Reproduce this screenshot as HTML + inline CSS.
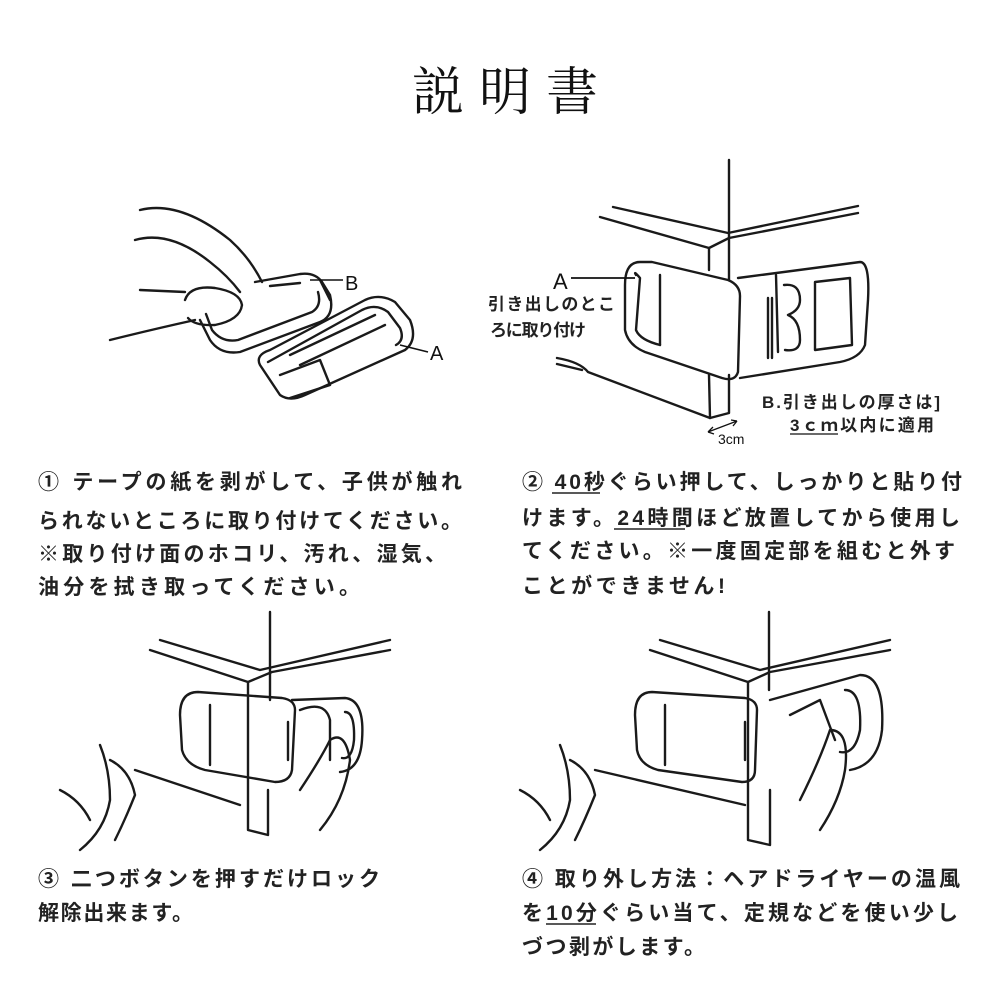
<!DOCTYPE html>
<html><head><meta charset="utf-8"><style>
html,body{margin:0;padding:0;background:#fff}
svg{display:block}
.t{font-family:"Liberation Sans","Noto Sans CJK JP",sans-serif;font-weight:bold;font-size:21px;fill:#222}
.s{font-family:"Liberation Sans","Noto Sans CJK JP",sans-serif;font-weight:bold;font-size:17px;fill:#222}
.l{fill:none;stroke:#1a1a1a;stroke-width:2.4;stroke-linecap:round;stroke-linejoin:round}
</style></head><body>
<svg width="1008" height="1008" viewBox="0 0 1008 1008" xmlns="http://www.w3.org/2000/svg">
<rect width="1008" height="1008" fill="#fff"/>
<text x="505" y="110" text-anchor="middle" font-family="'Liberation Serif','Noto Serif CJK SC',serif" font-size="52" fill="#111" textLength="186" lengthAdjust="spacing">説明書</text>

<!-- Panel 1 -->
<g class="l">
<path d="M140 210 Q180 200 230 240 Q250 258 262 282"/>
<path d="M135 240 Q170 230 210 262 Q228 276 240 292"/>
<path d="M140 290 L185 292"/>
<path d="M110 340 Q150 330 195 320"/>
<path d="M185 300 Q190 285 215 288 Q240 292 242 305 Q240 320 215 325 Q195 326 188 318"/>
<path d="M200 320 L210 340 Q220 355 240 352 L320 322 Q335 316 330 295 L322 282 Q315 272 300 274 L255 282"/>
<path d="M206 314 L212 330 Q222 343 238 340 L312 312 Q322 306 318 292"/>
<path d="M260 365 Q255 355 270 350 L365 300 Q380 293 395 302 L410 320 Q418 340 405 350 L305 395 Q290 402 280 395 Z"/>
<path d="M268 362 L362 310 Q376 303 388 312 L400 328 Q405 340 396 345"/>
<path d="M280 375 L320 360 L330 385 L290 398"/>
<path d="M290 355 L375 315"/>
<path d="M300 365 L385 325"/>
<path d="M320 280 L330 300"/>
<path d="M270 286 L300 283"/>
</g>
<text x="345" y="290" font-family="'Liberation Sans',sans-serif" font-size="20" fill="#111">B</text>
<line x1="310" y1="280" x2="343" y2="280" stroke="#111" stroke-width="1.5"/>
<text x="430" y="360" font-family="'Liberation Sans',sans-serif" font-size="20" fill="#111">A</text>
<line x1="400" y1="345" x2="428" y2="352" stroke="#111" stroke-width="1.5"/>

<!-- Panel 2 -->
<g class="l">
<path d="M729 160 L729 280"/>
<path d="M600 217 L709 248 L729 238 L858 213"/>
<path d="M613 207 L728 233 L858 206"/>
<path d="M709 248 L709 270"/>
<path d="M729 375 L729 413 L710 418 L709 375"/>
<path d="M557 358 Q580 362 588 372 L710 418"/>
<path d="M557 364 L582 370"/>
<path d="M640 262 Q625 262 625 285 L625 330 Q628 345 645 352 L722 378 Q735 382 738 372 L740 296 Q740 285 728 280 L652 262 Z"/>
<path d="M636 275 Q633 270 640 278 L636 330 Q640 340 660 345"/>
<path d="M660 275 L660 345"/>
<path d="M738 278 L860 262 Q870 262 868 300 L865 345 Q860 358 840 362 L740 378"/>
<path d="M776 275 L778 352"/>
<path d="M768 298 L768 358 M772 298 L772 358"/>
<path d="M784 285 Q800 283 800 300 Q800 310 788 315 Q800 320 800 340 Q800 352 785 350"/>
<path d="M815 282 L850 278 L852 345 L815 350 Z"/>
</g>
<text x="553" y="289" font-family="'Liberation Sans',sans-serif" font-size="22" fill="#111">A</text>
<line x1="571" y1="278" x2="635" y2="278" stroke="#111" stroke-width="1.8"/>
<text x="488" y="310" class="s" textLength="127" lengthAdjust="spacing">引き出しのとこ</text>
<text x="490" y="336" class="s" textLength="96" lengthAdjust="spacing">ろに取り付け</text>
<text x="762" y="408" class="s" font-size="18" textLength="178" lengthAdjust="spacing">B.引き出しの厚さは]</text>
<text x="790" y="431" class="s" textLength="144" lengthAdjust="spacing">3ｃｍ以内に適用</text>
<line x1="790" y1="434" x2="838" y2="434" stroke="#111" stroke-width="1.3"/>
<text x="718" y="444" font-family="'Liberation Sans',sans-serif" font-size="14" fill="#111">3cm</text>
<path d="M708 432 L737 421 M708 432 L713 427 M708 432 L714 434 M737 421 L731 420 M737 421 L733 426" stroke="#111" stroke-width="1.3" fill="none"/>

<!-- Panel 3 -->
<g class="l">
<path d="M270 612 L270 700"/>
<path d="M150 650 L248 682 L272 672 L390 650"/>
<path d="M160 640 L260 670 L390 640"/>
<path d="M248 682 L248 830 L268 835 L268 790"/>
<path d="M198 692 Q180 692 180 715 L182 750 Q186 765 205 770 L275 782 Q290 782 292 770 L295 710 Q295 700 282 698 Z"/>
<path d="M210 705 L210 765"/>
<path d="M292 700 L345 698 Q365 700 362 740 Q360 770 340 772"/>
<path d="M300 710 Q325 700 330 720 L330 760"/>
<path d="M345 712 Q355 712 354 740 Q352 760 342 758"/>
<path d="M288 722 L288 760"/>
<path d="M300 790 Q320 760 330 740 Q345 730 350 760 Q345 800 320 830"/>
<path d="M100 745 Q110 770 110 800 Q105 830 80 850"/>
<path d="M110 760 Q130 770 135 795 Q125 820 115 840"/>
<path d="M135 770 L240 805"/>
<path d="M60 790 Q80 800 90 820"/>
</g>

<!-- Panel 4 -->
<g class="l">
<path d="M769 612 L769 690"/>
<path d="M650 650 L748 682 L770 672 L890 650"/>
<path d="M660 640 L760 670 L890 640"/>
<path d="M748 682 L748 840 L770 845 L770 790"/>
<path d="M652 692 Q635 692 635 715 L637 750 Q640 765 658 770 L742 782 Q755 782 755 770 L757 710 Q757 700 745 698 Z"/>
<path d="M665 705 L665 765"/>
<path d="M770 700 L860 675 Q885 675 882 730 Q878 765 850 770"/>
<path d="M790 715 L820 700 L835 740"/>
<path d="M845 690 Q862 690 860 730 Q855 755 840 752"/>
<path d="M745 722 L745 760"/>
<path d="M800 800 Q820 760 830 730 Q850 730 845 770 Q840 800 820 830"/>
<path d="M560 745 Q570 770 570 800 Q565 830 540 850"/>
<path d="M570 760 Q590 770 595 795 Q585 820 575 840"/>
<path d="M595 770 L745 805"/>
<path d="M520 790 Q540 800 550 820"/>
</g>

<!-- Text blocks -->
<text x="38" y="489" class="t" textLength="424" lengthAdjust="spacing">① テープの紙を剥がして、子供が触れ</text>
<text x="38" y="528" class="t" textLength="424" lengthAdjust="spacing">られないところに取り付けてください。</text>
<text x="38" y="561" class="t" textLength="408" lengthAdjust="spacing">※取り付け面のホコリ、汚れ、湿気、</text>
<text x="38" y="594" class="t" textLength="322" lengthAdjust="spacing">油分を拭き取ってください。</text>

<text x="522" y="489" class="t" textLength="440" lengthAdjust="spacing">② 40秒ぐらい押して、しっかりと貼り付</text>
<line x1="552" y1="493" x2="600" y2="493" stroke="#222" stroke-width="1.5"/>
<text x="522" y="525" class="t" textLength="438" lengthAdjust="spacing">けます。24時間ほど放置してから使用し</text>
<line x1="614" y1="529" x2="685" y2="529" stroke="#222" stroke-width="1.5"/>
<text x="522" y="558" class="t" textLength="433" lengthAdjust="spacing">てください。※一度固定部を組むと外す</text>
<text x="522" y="593" class="t" textLength="203" lengthAdjust="spacing">ことができません!</text>

<text x="38" y="886" class="t" textLength="342" lengthAdjust="spacing">③ 二つボタンを押すだけロック</text>
<text x="38" y="920" class="t" textLength="155" lengthAdjust="spacing">解除出来ます。</text>

<text x="522" y="886" class="t" textLength="438" lengthAdjust="spacing">④ 取り外し方法：ヘアドライヤーの温風</text>
<text x="522" y="920" class="t" textLength="436" lengthAdjust="spacing">を10分ぐらい当て、定規などを使い少し</text>
<line x1="546" y1="924" x2="596" y2="924" stroke="#222" stroke-width="1.5"/>
<text x="522" y="954" class="t" textLength="183" lengthAdjust="spacing">づつ剥がします。</text>
</svg>
</body></html>
